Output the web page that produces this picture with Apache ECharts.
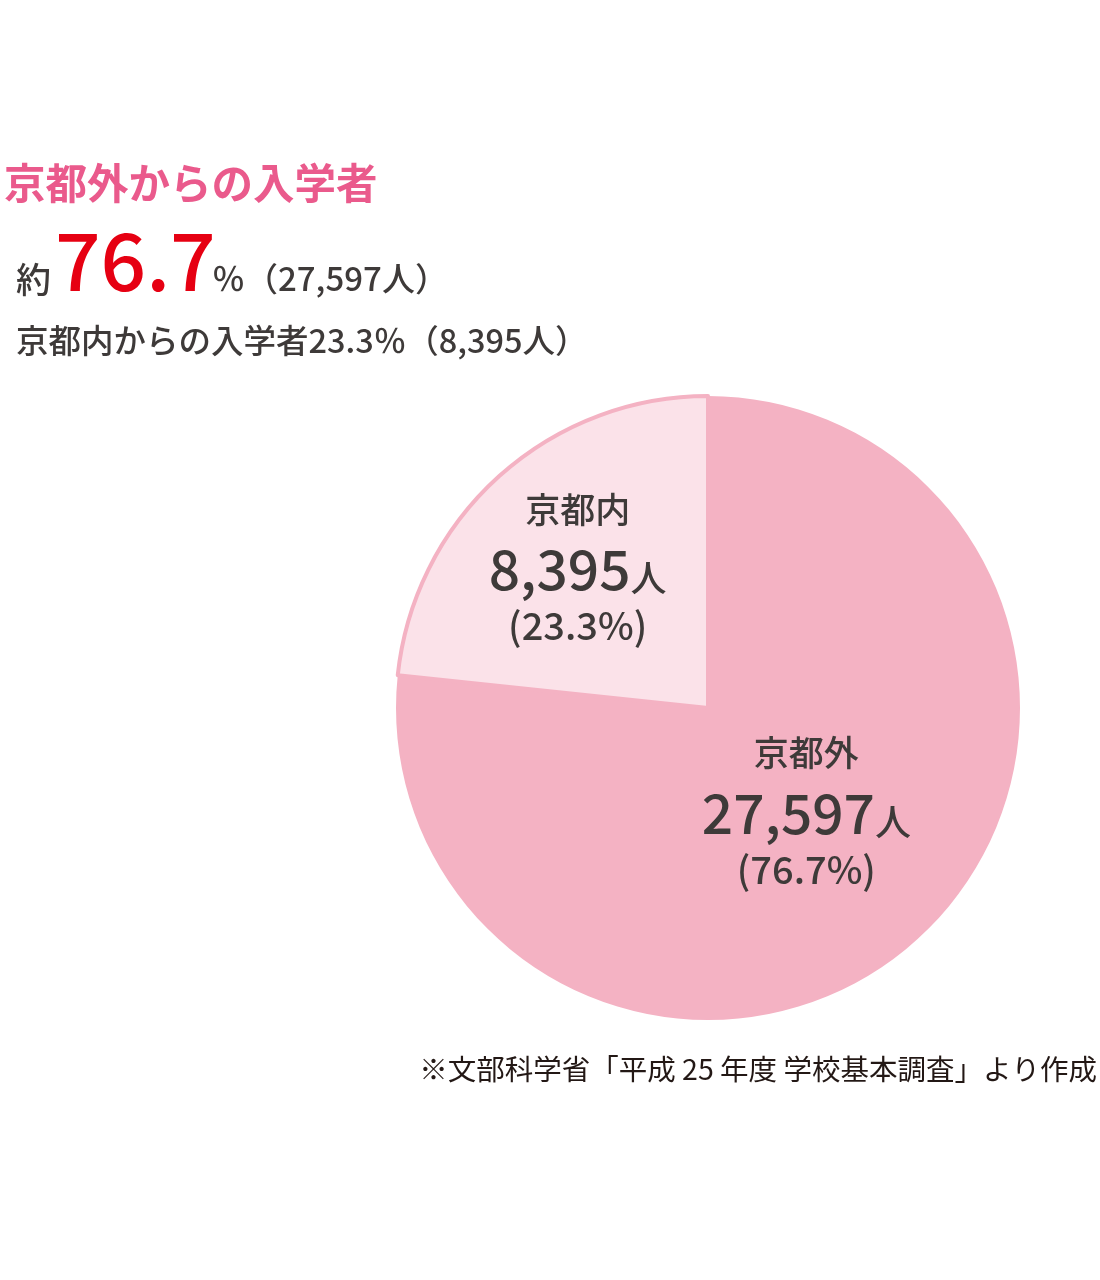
<!DOCTYPE html>
<html>
<head>
<meta charset="utf-8">
<script src="https://cdn.jsdelivr.net/npm/echarts@6/dist/echarts.min.js"></script>
<style>
  html, body { margin: 0; padding: 0; background: #fff; }
  #main { width: 1100px; height: 1280px; }
</style>
</head>
<body>
<div id="main"></div>
<script>
// 入学者の内訳（平成25年度 学校基本調査）
const names = ['京都外', '京都内'];
const counts = [27597, 8395];
const shares = ['76.7', '23.3'];
const colors = ['#f4b2c3', '#fbe2e9'];

const FONT = '"Noto Sans CJK JP", "Noto Sans", sans-serif';
const INK = '#3e3a39';

const chart = echarts.init(document.getElementById('main'), null, { renderer: 'canvas' });

const fmt = v => v.toLocaleString('en-US');

const pieData = names.map((n, i) => ({
    name: n,
    value: counts[i],
    share: shares[i],
    itemStyle: i === 1
        ? { color: colors[i], borderColor: colors[0], borderWidth: 4 }
        : { color: colors[i], borderWidth: 0 }
}));

const option = {
    backgroundColor: '#ffffff',
    animation: false,
    graphic: [
        {
            type: 'text', left: 4, top: 162,
            style: { text: '京都外からの入学者', font: 'bold 41.5px ' + FONT, fill: '#ea5a8c' }
        },
        {
            type: 'text', left: 16, top: 262,
            style: { text: '約', font: '500 35px ' + FONT, fill: INK }
        },
        {
            type: 'text', left: 55, top: 221,
            style: { text: shares[0], font: '500 80px ' + FONT, fill: '#e60012' }
        },
        {
            type: 'text', left: 212, top: 262,
            style: { text: '％（' + fmt(counts[0]) + '人）', font: '500 33px ' + FONT, fill: INK }
        },
        {
            type: 'text', left: 16, top: 324,
            style: {
                text: '京都内からの入学者' + shares[1] + '％（' + fmt(counts[1]) + '人）',
                font: '500 32.5px ' + FONT, fill: INK
            }
        },
        {
            type: 'text', right: 3, top: 1055,
            style: { text: '※文部科学省「平成 25 年度 学校基本調査」より作成', font: '28.5px ' + FONT, fill: '#231815' }
        }
    ],
    series: [{
        type: 'pie',
        center: [708, 708],
        radius: [0, 312],
        startAngle: 90,
        clockwise: true,
        silent: true,
        label: {
            show: true,
            position: 'inside',
            color: INK,
            fontFamily: FONT,
            formatter: p => '{n|' + p.name + '}\n{v|' + fmt(p.value) + '}{u|人}\n{p|(' + p.data.share + '%)}',
            rich: {
                n: { fontSize: 35, fontWeight: 500, lineHeight: 58, color: INK, fontFamily: FONT, align: 'center' },
                v: { fontSize: 55, fontWeight: 500, lineHeight: 58, color: INK, fontFamily: FONT, verticalAlign: 'bottom' },
                u: { fontSize: 36, fontWeight: 500, lineHeight: 58, color: INK, fontFamily: FONT, verticalAlign: 'bottom' },
                p: { fontSize: 38, fontWeight: 500, lineHeight: 58, color: INK, fontFamily: FONT, align: 'center' }
            }
        },
        labelLayout: p => p.dataIndex === 1 ? { dx: -24, dy: -22 } : { dx: -8, dy: -15 },
        labelLine: { show: false },
        data: pieData
    }]
};

chart.setOption(option);
</script>
</body>
</html>
